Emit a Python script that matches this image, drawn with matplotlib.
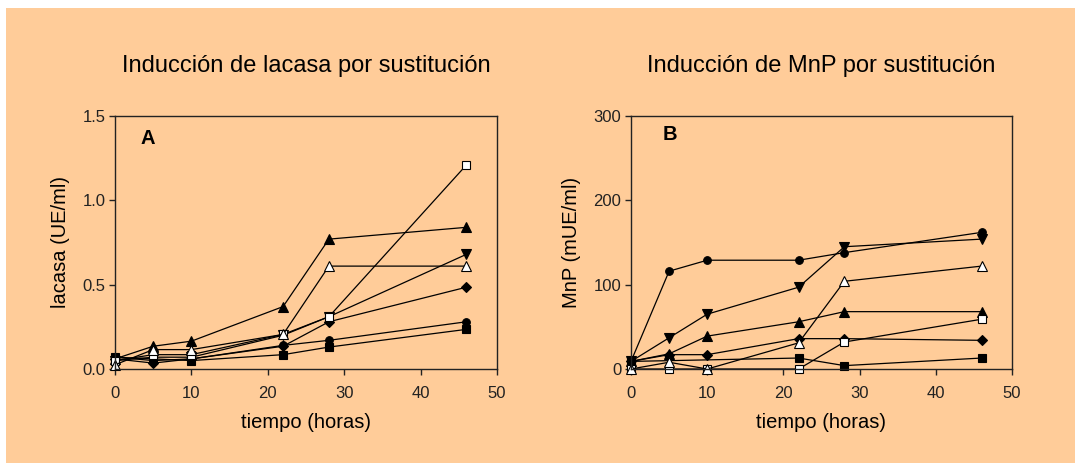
import numpy as np
import matplotlib
matplotlib.use('Agg')
import matplotlib.pyplot as plt
from matplotlib.patches import Rectangle

plt.rcParams.update({
    'font.family': ['Liberation Sans', 'DejaVu Sans'],
    'font.size': 12,
    'axes.edgecolor': '#222222',
    'axes.linewidth': 1.0,
    'xtick.color': '#222222',
    'ytick.color': '#222222',
})

bg = '#FFCC99'

# sampling times (hours)
tiempo = [0, 5, 10, 22, 28, 46]

# Panel A: lacasa (UE/ml)
lac_sq_fill = [0.07, 0.06, 0.05, 0.085, 0.13, 0.235]
lac_circle = [0.07, 0.05, 0.06, 0.14, 0.17, 0.28]
lac_diamond = [0.06, 0.035, 0.06, 0.135, 0.28, 0.485]
lac_tri_fill = [0.06, 0.135, 0.165, 0.37, 0.77, 0.84]
lac_tri_down = [0.05, 0.07, 0.07, 0.20, 0.31, 0.68]
lac_sq_open = [0.05, 0.085, 0.085, 0.205, 0.31, 1.21]
lac_tri_open = [0.025, 0.115, 0.115, 0.205, 0.61, 0.61]

# Panel B: MnP (mUE/ml)
mnp_sq_fill = [9, np.nan, np.nan, 13, 4, 13]
mnp_circle = [9, 116, 129, 129, 138, 162]
mnp_diamond = [9, 17, 17, 36, 36, 34]
mnp_tri_fill = [9, 18, 39, 56, 68, 68]
mnp_tri_down = [9, 37, 65, 97, 145, 154]
mnp_sq_open = [0, 0, 0, 0, 32, 59]
mnp_tri_open = [0, 8, 0, 31, 104, 122]

# marker styles: (marker, facecolor, size)
styles = {
    'sq_fill': ('s', 'black', 5.5),
    'circle': ('o', 'black', 5.5),
    'diamond': ('D', 'black', 5.0),
    'tri_fill': ('^', 'black', 6.5),
    'tri_down': ('v', 'black', 6.5),
    'sq_open': ('s', 'white', 5.5),
    'tri_open': ('^', 'white', 6.5),
}

fig = plt.figure(figsize=(10.76, 4.63), dpi=100, facecolor='white')
fig.patches.append(Rectangle((6 / 1076, 0), 1069 / 1076, 455 / 463, transform=fig.transFigure,
                             facecolor=bg, edgecolor='none', zorder=-10))

ax1 = fig.add_axes([115 / 1076, 94 / 463, 382 / 1076, 253 / 463])
ax2 = fig.add_axes([631 / 1076, 94 / 463, 381 / 1076, 253 / 463])


def draw(ax, series):
    t = np.array(tiempo, dtype=float)
    for key, vals in series:
        v = np.array(vals, dtype=float)
        ok = ~np.isnan(v)
        m, fc, ms = styles[key]
        ax.plot(t[ok], v[ok], color='black', lw=0.9, marker=m, markerfacecolor=fc,
                markeredgecolor='black', markeredgewidth=0.8, markersize=ms, clip_on=False)


draw(ax1, [('sq_fill', lac_sq_fill), ('circle', lac_circle), ('diamond', lac_diamond),
           ('tri_fill', lac_tri_fill), ('tri_down', lac_tri_down), ('sq_open', lac_sq_open),
           ('tri_open', lac_tri_open)])
draw(ax2, [('sq_fill', mnp_sq_fill), ('circle', mnp_circle), ('diamond', mnp_diamond),
           ('tri_fill', mnp_tri_fill), ('tri_down', mnp_tri_down), ('sq_open', mnp_sq_open),
           ('tri_open', mnp_tri_open)])

for ax in (ax1, ax2):
    ax.set_facecolor(bg)
    ax.set_xlim(0, 50)
    ax.set_xticks([0, 10, 20, 30, 40, 50])
    ax.tick_params(axis='both', direction='out', length=4, width=1, labelsize=12)
    ax.tick_params(axis='x', pad=8)
    ax.tick_params(axis='y', pad=3)
    ax.set_xlabel('tiempo (horas)', fontsize=14.5, labelpad=9)

ax1.set_ylim(0, 1.5)
ax1.set_yticks([0.0, 0.5, 1.0, 1.5])
ax1.set_yticklabels(['0.0', '0.5', '1.0', '1.5'])
ax1.set_ylabel('lacasa (UE/ml)', fontsize=14.5, labelpad=9)
ax1.set_title('Inducción de lacasa por sustitución', fontsize=17, pad=32)
ax1.text(0.086, 0.913, 'A', transform=ax1.transAxes, fontsize=14.5, fontweight='bold',
         ha='center', va='center')

ax2.set_ylim(0, 300)
ax2.set_yticks([0, 100, 200, 300])
ax2.set_ylabel('MnP (mUE/ml)', fontsize=14.5, labelpad=9)
ax2.set_title('Inducción de MnP por sustitución', fontsize=17, pad=32)
ax2.text(0.102, 0.925, 'B', transform=ax2.transAxes, fontsize=14.5, fontweight='bold',
         ha='center', va='center')

fig.savefig('out.png', dpi=100, facecolor='white')
